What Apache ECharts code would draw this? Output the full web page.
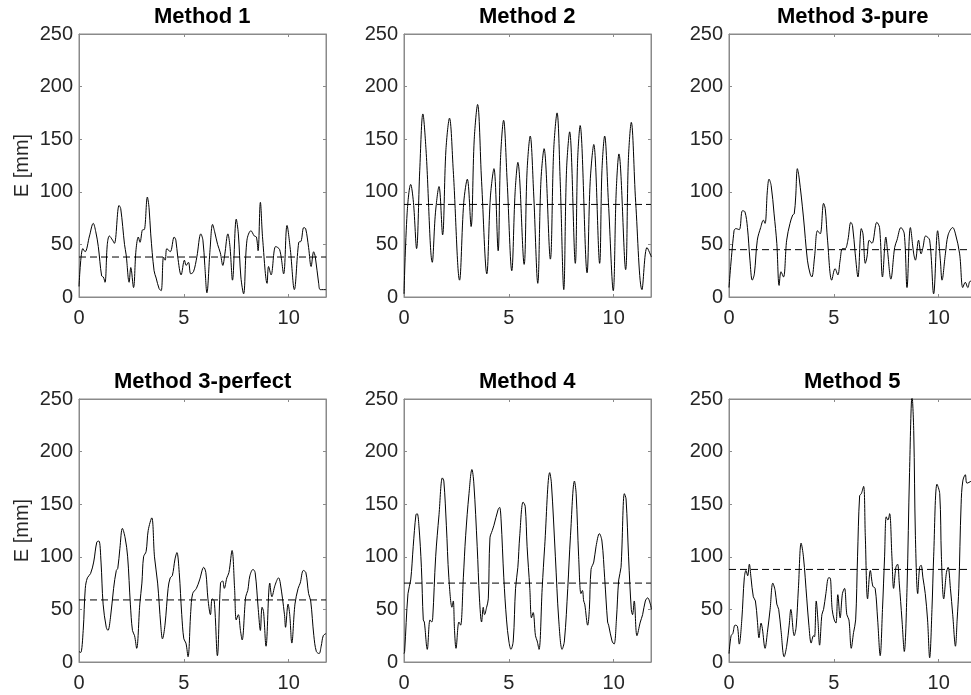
<!DOCTYPE html>
<html>
<head>
    <meta charset="utf-8">
    <title>E per method</title>
    <script src="https://cdn.jsdelivr.net/npm/echarts@6/dist/echarts.min.js"></script>
    <style>
        html, body { margin: 0; padding: 0; background: #fff; }
        #chart { width: 971px; height: 695px; }
    </style>
</head>
<body>
<div id="chart"></div>
<script type="text/javascript">

    // 各子图标题
    var titles = ['Method 1', 'Method 2', 'Method 3-pure', 'Method 3-perfect', 'Method 4', 'Method 5'];
    // 虚线(平均值)
    var meanE = [38, 88, 45, 59, 75, 88];
    var xMax = 11.78;

    // 曲线数据 [t, E]
    var method1 = [[0, 10], [0.18, 46], [0.29, 43], [0.5, 58], [0.68, 70], [0.8, 62], [0.92, 48], [1.08, 20], [1.16, 19], [1.24, 14],
        [1.35, 50], [1.45, 58], [1.6, 54], [1.69, 51], [1.91, 87], [1.99, 84], [2.17, 50], [2.25, 40], [2.39, 14], [2.47, 28], [2.6, 9],
        [2.72, 45], [2.83, 57], [2.91, 52], [3.04, 64], [3.11, 64], [3.26, 95], [3.34, 85], [3.42, 60], [3.58, 25], [3.68, 18],
        [3.82, 8], [3.92, 6], [4.03, 38], [4.11, 35], [4.19, 46], [4.35, 43], [4.54, 57], [4.62, 54], [4.71, 38], [4.87, 21],
        [5.03, 35], [5.11, 30], [5.22, 33], [5.33, 22], [5.46, 24], [5.62, 38], [5.81, 60], [5.91, 54], [6.0, 30], [6.1, 4],
        [6.25, 45], [6.37, 69], [6.47, 62], [6.61, 50], [6.74, 42], [6.86, 30], [6.95, 40], [7.1, 60], [7.2, 48], [7.32, 16],
        [7.5, 74], [7.6, 60], [7.72, 19], [7.85, 3], [8.01, 54], [8.2, 63], [8.36, 58], [8.46, 57], [8.54, 44], [8.65, 90],
        [8.76, 55], [8.97, 13], [9.04, 29], [9.16, 21], [9.38, 48], [9.57, 45], [9.76, 22], [9.92, 68], [10.08, 45], [10.27, 7],
        [10.48, 52], [10.59, 53], [10.72, 66], [10.81, 65], [10.95, 47], [11.07, 29], [11.19, 43], [11.27, 38], [11.43, 13],
        [11.51, 7], [11.78, 7]];

    var method2 = [[0, 3], [0.15, 80], [0.32, 107], [0.45, 90], [0.6, 46], [0.75, 120], [0.9, 174], [1.05, 140], [1.35, 33],
        [1.5, 80], [1.67, 105], [1.84, 59], [2.0, 140], [2.17, 170], [2.35, 120], [2.65, 16], [2.85, 90], [3.02, 112], [3.2, 67],
        [3.35, 150], [3.51, 183], [3.7, 110], [3.95, 22], [4.12, 95], [4.29, 122], [4.49, 44], [4.6, 130], [4.75, 168],
        [4.92, 110], [5.14, 25], [5.3, 100], [5.43, 128], [5.73, 31], [5.87, 120], [6.02, 153], [6.18, 100], [6.38, 13],
        [6.53, 110], [6.68, 141], [6.98, 36], [7.14, 140], [7.3, 175], [7.45, 110], [7.62, 7], [7.75, 120], [7.9, 157],
        [8.17, 32], [8.28, 130], [8.4, 163], [8.73, 23], [8.88, 110], [9.05, 145], [9.33, 32], [9.44, 120], [9.57, 153],
        [9.75, 90], [9.98, 6], [10.12, 100], [10.25, 136], [10.57, 26], [10.7, 130], [10.84, 166], [11.05, 90], [11.35, 7],
        [11.59, 47], [11.8, 38]];

    var method3pure = [[0, 9], [0.24, 63], [0.33, 65], [0.49, 64], [0.64, 82], [0.76, 81], [0.88, 66], [1.0, 35], [1.11, 16],
        [1.21, 22], [1.35, 54], [1.51, 66], [1.64, 73], [1.72, 70], [1.83, 101], [1.91, 112], [2.01, 106], [2.15, 79], [2.28, 51],
        [2.39, 11], [2.48, 24], [2.6, 19], [2.75, 54], [2.91, 70], [3.04, 78], [3.11, 79], [3.18, 95], [3.26, 122], [3.34, 114],
        [3.55, 76], [3.74, 35], [3.87, 22], [3.95, 19], [4.08, 38], [4.22, 63], [4.35, 60], [4.51, 89], [4.59, 84], [4.7, 54],
        [4.9, 16], [5.06, 27], [5.19, 21], [5.3, 35], [5.41, 46], [5.54, 46], [5.67, 54], [5.81, 71], [5.89, 68], [6.02, 41],
        [6.15, 19], [6.31, 65], [6.39, 60], [6.5, 32], [6.58, 38], [6.69, 54], [6.82, 51], [7.05, 71], [7.18, 66], [7.32, 19],
        [7.48, 57], [7.56, 44], [7.72, 17], [7.9, 47], [8.01, 54], [8.2, 66], [8.36, 60], [8.49, 9], [8.65, 66], [8.81, 41],
        [8.89, 35], [9.04, 54], [9.16, 41], [9.25, 47], [9.38, 58], [9.57, 54], [9.76, 3], [9.95, 63], [10.08, 35], [10.16, 16],
        [10.32, 41], [10.45, 59], [10.67, 66], [10.8, 60], [11.0, 41], [11.15, 9], [11.27, 14], [11.39, 9], [11.51, 15], [11.8, 14]];

    var method3perfect = [[0, 10], [0.08, 9], [0.2, 30], [0.3, 70], [0.4, 80], [0.55, 84], [0.7, 95], [0.85, 114], [0.95, 115],
        [1.05, 95], [1.15, 55], [1.3, 33], [1.38, 30], [1.5, 42], [1.65, 70], [1.78, 87], [1.85, 89], [1.95, 108], [2.07, 127],
        [2.2, 118], [2.32, 100], [2.45, 55], [2.55, 30], [2.65, 25], [2.75, 13], [2.9, 55], [3.0, 75], [3.08, 100], [3.2, 105],
        [3.3, 125], [3.47, 137], [3.6, 100], [3.75, 75], [3.9, 35], [3.98, 22], [4.1, 35], [4.25, 70], [4.35, 80], [4.45, 82],
        [4.58, 98], [4.67, 104], [4.78, 85], [4.9, 45], [5.0, 22], [5.1, 18], [5.2, 5], [5.33, 48], [5.42, 65], [5.6, 70],
        [5.75, 78], [5.95, 90], [6.05, 85], [6.15, 60], [6.27, 45], [6.35, 60], [6.45, 58], [6.6, 6], [6.75, 75], [6.85, 77],
        [6.93, 70], [7.05, 80], [7.15, 85], [7.3, 106], [7.42, 70], [7.5, 40], [7.6, 45], [7.7, 30], [7.78, 21], [7.95, 62],
        [8.05, 68], [8.15, 82], [8.3, 88], [8.4, 85], [8.55, 50], [8.65, 30], [8.73, 52], [8.8, 48], [8.92, 15], [9.1, 75],
        [9.2, 62], [9.35, 73], [9.52, 80], [9.6, 75], [9.8, 45], [9.85, 33], [9.97, 55], [10.05, 45], [10.15, 18], [10.3, 55],
        [10.45, 70], [10.55, 75], [10.7, 87], [10.82, 85], [10.95, 65], [11.05, 58], [11.2, 25], [11.32, 10], [11.45, 8],
        [11.55, 15], [11.65, 25], [11.78, 27]];

    var method4 = [[0, 8], [0.03, 10], [0.19, 65], [0.32, 78], [0.44, 110], [0.57, 140], [0.63, 141], [0.71, 130], [0.83, 90],
        [0.92, 40], [0.97, 38], [1.11, 12], [1.24, 40], [1.32, 38], [1.37, 42], [1.51, 100], [1.67, 140], [1.83, 175], [1.9, 172],
        [2.02, 130], [2.14, 80], [2.29, 52], [2.35, 58], [2.41, 30], [2.48, 13], [2.62, 38], [2.7, 35], [2.83, 80], [2.94, 120],
        [3.1, 160], [3.24, 183], [3.33, 170], [3.49, 110], [3.6, 60], [3.7, 38], [3.78, 52], [3.84, 45], [3.94, 52], [4.02, 60],
        [4.1, 118], [4.21, 125], [4.29, 130], [4.49, 145], [4.56, 147], [4.63, 135], [4.76, 80], [4.89, 40], [5.0, 20], [5.1, 12],
        [5.21, 20], [5.32, 70], [5.43, 90], [5.52, 120], [5.68, 152], [5.78, 148], [5.87, 110], [6.0, 70], [6.08, 42], [6.16, 47],
        [6.27, 25], [6.35, 20], [6.44, 12], [6.59, 70], [6.71, 110], [6.95, 180], [7.03, 170], [7.22, 100], [7.38, 40], [7.54, 12],
        [7.65, 20], [7.81, 70], [7.94, 120], [8.13, 172], [8.21, 160], [8.33, 100], [8.44, 65], [8.51, 68], [8.57, 58], [8.62, 55],
        [8.76, 35], [8.84, 50], [8.92, 88], [9.05, 95], [9.16, 110], [9.32, 122], [9.44, 115], [9.57, 80], [9.71, 38], [9.76, 35],
        [9.92, 20], [10.02, 17], [10.13, 40], [10.24, 78], [10.35, 90], [10.51, 160], [10.59, 155], [10.71, 100], [10.84, 50],
        [10.9, 45], [10.98, 58], [11.11, 25], [11.27, 38], [11.38, 45], [11.51, 58], [11.62, 61], [11.75, 55], [11.8, 50]];

    var method5 = [[0, 8], [0.1, 25], [0.18, 27], [0.29, 35], [0.4, 34], [0.49, 17], [0.61, 40], [0.73, 80], [0.81, 87],
        [0.89, 82], [0.97, 93], [1.05, 80], [1.16, 62], [1.26, 58], [1.35, 40], [1.43, 23], [1.53, 37], [1.59, 32], [1.72, 13],
        [1.83, 28], [1.96, 50], [2.09, 75], [2.2, 68], [2.28, 55], [2.37, 50], [2.48, 30], [2.63, 5], [2.75, 15], [2.87, 35],
        [2.95, 50], [3.11, 25], [3.2, 33], [3.31, 70], [3.44, 113], [3.55, 100], [3.71, 60], [3.81, 35], [3.92, 18], [4.03, 25],
        [4.08, 24], [4.16, 58], [4.24, 40], [4.32, 16], [4.43, 45], [4.51, 50], [4.62, 65], [4.75, 80], [4.82, 80], [4.92, 50],
        [5.02, 40], [5.1, 37], [5.19, 64], [5.3, 42], [5.41, 65], [5.51, 70], [5.62, 45], [5.72, 40], [5.83, 13], [5.94, 28],
        [6.04, 40], [6.13, 100], [6.23, 158], [6.31, 160], [6.42, 167], [6.5, 120], [6.61, 60], [6.74, 87], [6.86, 72], [6.97, 70],
        [7.09, 40], [7.21, 6], [7.32, 50], [7.42, 100], [7.5, 138], [7.58, 135], [7.66, 141], [7.77, 100], [7.85, 70], [7.96, 90],
        [8.04, 93], [8.12, 75], [8.25, 40], [8.36, 10], [8.49, 70], [8.61, 180], [8.73, 253], [8.81, 220], [8.89, 120], [9.0, 65],
        [9.09, 90], [9.16, 92], [9.25, 80], [9.36, 65], [9.47, 40], [9.57, 4], [9.68, 50], [9.76, 100], [9.92, 169], [10.05, 160],
        [10.13, 100], [10.24, 60], [10.37, 85], [10.45, 90], [10.56, 70], [10.67, 45], [10.8, 15], [10.88, 40], [10.96, 70],
        [11.07, 150], [11.15, 172], [11.27, 178], [11.35, 170], [11.56, 172], [11.8, 175]];

    var allData = [method1, method2, method3pure, method3perfect, method4, method5];

    // 子图位置
    var colLeft = [79, 404, 729];
    var rowTop = [34, 399];
    var plotW = 247;
    var plotH = 263;

    var fontFamily = "'Liberation Sans', Arial, Helvetica, sans-serif";
    var axisColor = '#8a8a8a';
    var textColor = '#262626';
    var titleSize = 22;

    // 构建配置 (放在函数里: 全局 var top 会撞上 window.top)
    function buildOption() {
        var measureCtx = document.createElement('canvas').getContext('2d');
        measureCtx.font = 'bold ' + titleSize + 'px ' + fontFamily;

        var grids = [], xAxes = [], yAxes = [], series = [], titleList = [];

        for (var i = 0; i < 6; i++) {
            var col = i % 3;
            var row = Math.floor(i / 3);
            var gLeft = colLeft[col];
            var gTop = rowTop[row];

            // outerBoundsMode none: 第三列超出画布,不要自动收缩
            grids.push({
                left: gLeft, top: gTop, width: plotW, height: plotH,
                outerBoundsMode: 'none',
                show: true, borderColor: axisColor, borderWidth: 1
            });

            // 标题居中
            var tw = measureCtx.measureText(titles[i]).width;
            titleList.push({
                text: titles[i],
                left: Math.round(gLeft + plotW / 2 - tw / 2),
                top: gTop - 28,
                padding: 0,
                textStyle: { fontFamily: fontFamily, fontSize: titleSize, fontWeight: 'bold', color: '#000' }
            });

            // 下 / 上 x轴
            xAxes.push({
                gridIndex: i, type: 'value', min: 0, max: xMax, interval: 5, position: 'bottom',
                axisLine: { show: true, onZero: false, lineStyle: { color: axisColor, width: 1 } },
                axisTick: { show: true, inside: true, length: 3, lineStyle: { color: axisColor } },
                axisLabel: { showMaxLabel: false, margin: 11, fontFamily: fontFamily, fontSize: 20, color: textColor },
                splitLine: { show: false }
            });
            xAxes.push({
                gridIndex: i, type: 'value', min: 0, max: xMax, interval: 5, position: 'top',
                axisLine: { show: true, onZero: false, lineStyle: { color: axisColor, width: 1 } },
                axisTick: { show: true, inside: true, length: 3, lineStyle: { color: axisColor } },
                axisLabel: { show: false },
                splitLine: { show: false }
            });

            // 左 / 右 y轴
            var yLeft = {
                gridIndex: i, type: 'value', min: 0, max: 250, interval: 50, position: 'left',
                axisLine: { show: true, onZero: false, lineStyle: { color: axisColor, width: 1 } },
                axisTick: { show: true, inside: true, length: 3, lineStyle: { color: axisColor } },
                axisLabel: { margin: 6, fontFamily: fontFamily, fontSize: 20, color: textColor },
                splitLine: { show: false }
            };
            if (col === 0) {
                yLeft.name = 'E [mm]';
                yLeft.nameLocation = 'middle';
                yLeft.nameGap = 47;
                yLeft.nameTextStyle = { fontFamily: fontFamily, fontSize: 20, color: textColor };
            }
            yAxes.push(yLeft);
            yAxes.push({
                gridIndex: i, type: 'value', min: 0, max: 250, interval: 50, position: 'right',
                axisLine: { show: true, onZero: false, lineStyle: { color: axisColor, width: 1 } },
                axisTick: { show: true, inside: true, length: 3, lineStyle: { color: axisColor } },
                axisLabel: { show: false },
                splitLine: { show: false }
            });

            series.push({
                type: 'line',
                xAxisIndex: 2 * i, yAxisIndex: 2 * i,
                data: allData[i],
                symbol: 'none',
                smooth: 0.35,
                lineStyle: { color: '#000', width: 1 },
                z: 3
            });
            series.push({
                type: 'line',
                xAxisIndex: 2 * i, yAxisIndex: 2 * i,
                data: [[0, meanE[i]], [xMax, meanE[i]]],
                symbol: 'none',
                lineStyle: { color: '#000', width: 1, type: [7, 4] },
                z: 2
            });
        }

        return {
            animation: false,
            backgroundColor: '#fff',
            title: titleList,
            grid: grids,
            xAxis: xAxes,
            yAxis: yAxes,
            series: series
        };
    }

    var chart = echarts.init(document.getElementById('chart'));
    chart.setOption(buildOption());

</script>
</body>
</html>
